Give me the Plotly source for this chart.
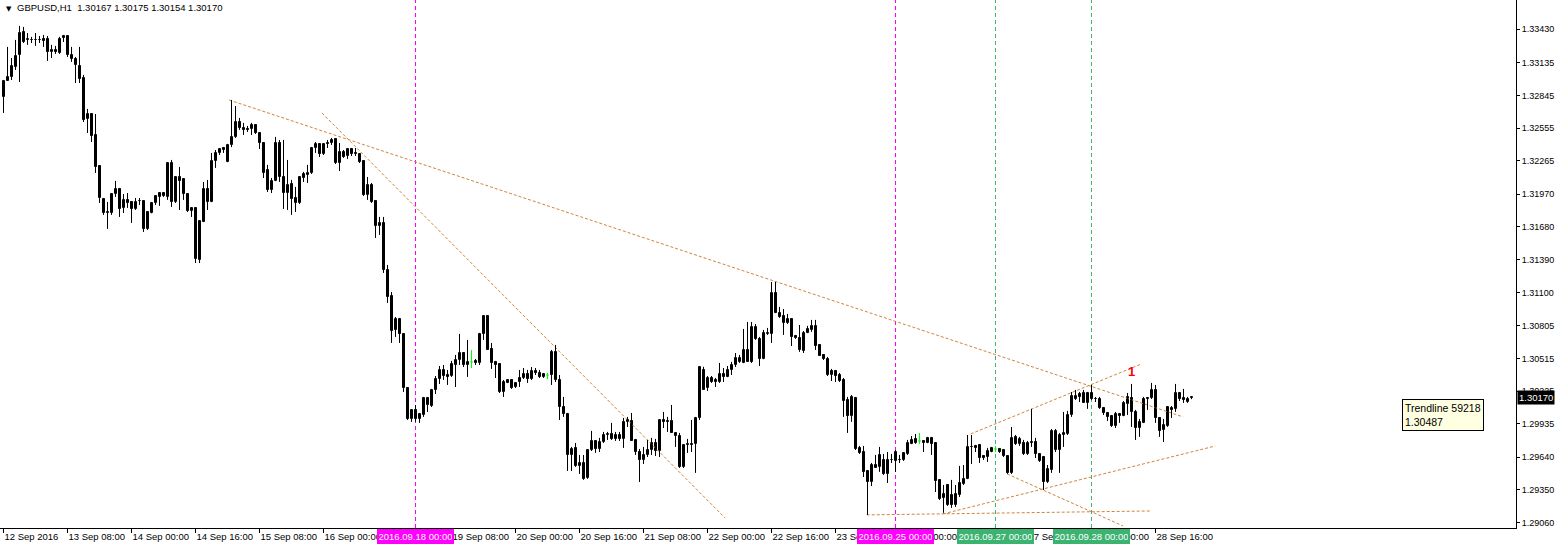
import bisect
import pandas as pd
import plotly.graph_objects as go

# ---------------- data (GBPUSD H1) ----------------
first_bar = "2016-09-12 16:00"
opens = [
1.32831,1.32972,1.33008,1.33097,1.33203,1.33406,1.33336,1.33336,1.33336,1.33338,
1.33345,1.33345,1.33229,1.33247,1.33220,1.33354,1.33371,1.33203,1.33168,1.33106,
1.32999,1.32636,1.32680,1.32494,1.32220,1.31927,1.31803,1.31803,1.31971,1.32016,
1.31848,1.31919,1.31901,1.31839,1.31910,1.31910,1.31662,1.31803,1.31892,1.31945,
1.31980,1.31945,1.32246,1.31901,1.32122,1.32105,1.31971,1.31821,1.31848,1.31387,
1.31724,1.32016,1.31901,1.32264,1.32335,1.32379,1.32255,1.32406,1.32477,1.32609,
1.32556,1.32548,1.32548,1.32583,1.32512,1.32423,1.32184,1.32007,1.32087,1.32423,
1.32122,1.31980,1.32060,1.31936,1.31892,1.32113,1.32140,1.32158,1.32379,1.32415,
1.32326,1.32423,1.32423,1.32459,1.32246,1.32344,1.32308,1.32370,1.32335,1.32326,
1.32264,1.31962,1.32052,1.31910,1.31689,1.31715,1.31299,1.31068,1.30767,1.30865,
1.30732,1.30253,1.29979,1.30059,1.29979,1.30014,1.30165,1.30094,1.30236,1.30333,
1.30413,1.30368,1.30359,1.30457,1.30501,1.30563,1.30457,1.30484,1.30493,1.30475,
1.30732,1.30889,1.30599,1.30484,1.30466,1.30218,1.30298,1.30324,1.30262,1.30306,
1.30342,1.30377,1.30333,1.30404,1.30386,1.30351,1.30368,1.30368,1.30572,1.30324,
1.30085,1.30023,1.29660,1.29722,1.29563,1.29589,1.29457,1.29704,1.29784,1.29713,
1.29775,1.29837,1.29846,1.29802,1.29837,1.29802,1.29953,1.29961,1.29793,1.29686,
1.29616,1.29660,1.29704,1.29766,1.29695,1.29970,1.29961,1.29961,1.29855,1.29828,
1.29554,1.29749,1.29758,1.29758,1.29988,1.30413,1.30253,1.30342,1.30324,1.30306,
1.30377,1.30351,1.30413,1.30457,1.30484,1.30475,1.30590,1.30484,1.30794,1.30688,
1.30510,1.30732,1.30732,1.31094,1.30918,1.30891,1.30829,1.30865,1.30714,1.30696,
1.30581,1.30741,1.30767,1.30803,1.30634,1.30546,1.30510,1.30368,1.30404,1.30368,
1.30324,1.30147,1.30005,1.30165,1.29722,1.29686,1.29518,1.29421,1.29571,1.29554,
1.29616,1.29492,1.29616,1.29607,1.29616,1.29616,1.29669,1.29758,1.29802,1.29784,
1.29784,1.29766,1.29811,1.29766,1.29439,1.29279,1.29394,1.29306,1.29217,1.29306,
1.29403,1.29448,1.29731,1.29740,1.29749,1.29651,1.29642,1.29686,1.29713,1.29713,
1.29704,1.29651,1.29501,1.29820,1.29758,1.29766,1.29669,1.29766,1.29775,1.29669,
1.29642,1.29421,1.29527,1.29873,1.29704,1.29837,1.29846,1.30014,1.30156,1.30200,
1.30209,1.30121,1.30209,1.30156,1.30156,1.30077,1.30032,1.30005,1.29917,1.30023,
1.30005,1.30112,1.30165,1.30041,1.29899,1.29944,1.30165,1.30165,1.30236,1.29988,
1.29881,1.29917,1.30077,1.30068,1.30209,1.30165,1.30129,1.30167]
highs = [
1.32981,1.33274,1.33176,1.33336,1.33460,1.33451,1.33397,1.33363,1.33397,1.33371,
1.33380,1.33371,1.33292,1.33283,1.33363,1.33380,1.33375,1.33274,1.33185,1.33274,
1.33026,1.32725,1.32682,1.32680,1.32222,1.31929,1.31901,1.31980,1.32087,1.32025,
1.31971,1.31980,1.31903,1.31936,1.31936,1.31912,1.31812,1.31901,1.31962,1.31980,
1.31982,1.32255,1.32273,1.32122,1.32211,1.32107,1.31973,1.31850,1.31850,1.31733,
1.32078,1.32096,1.32335,1.32361,1.32379,1.32388,1.32415,1.32804,1.32751,1.32645,
1.32601,1.32574,1.32601,1.32585,1.32514,1.32425,1.32229,1.32113,1.32477,1.32450,
1.32450,1.32273,1.32096,1.32034,1.32122,1.32167,1.32229,1.32388,1.32432,1.32423,
1.32423,1.32450,1.32468,1.32461,1.32423,1.32361,1.32370,1.32379,1.32379,1.32328,
1.32266,1.32122,1.32069,1.31912,1.31768,1.31768,1.31343,1.31103,1.30882,1.30874,
1.30734,1.30255,1.30059,1.30103,1.30032,1.30174,1.30174,1.30245,1.30359,1.30448,
1.30457,1.30413,1.30493,1.30546,1.30732,1.30572,1.30679,1.30590,1.30510,1.30741,
1.30891,1.30891,1.30652,1.30493,1.30468,1.30324,1.30326,1.30326,1.30306,1.30413,
1.30430,1.30413,1.30439,1.30430,1.30413,1.30386,1.30386,1.30590,1.30634,1.30368,
1.30174,1.30032,1.29731,1.29766,1.29660,1.29660,1.29706,1.29873,1.29786,1.29811,
1.29864,1.29864,1.29944,1.29864,1.29864,1.29988,1.29997,1.30032,1.29802,1.29713,
1.29731,1.29793,1.29811,1.29802,1.29970,1.30041,1.29997,1.30103,1.29857,1.29855,
1.29749,1.29802,1.29970,1.29997,1.30448,1.30441,1.30359,1.30359,1.30342,1.30475,
1.30430,1.30448,1.30484,1.30563,1.30546,1.30776,1.30838,1.30838,1.30820,1.30705,
1.30767,1.30785,1.31192,1.31192,1.30971,1.30953,1.30909,1.30867,1.30723,1.30811,
1.30758,1.30803,1.30856,1.30856,1.30636,1.30548,1.30528,1.30422,1.30413,1.30386,
1.30342,1.30174,1.30191,1.30174,1.29740,1.29740,1.29527,1.29589,1.29660,1.29731,
1.29669,1.29686,1.29669,1.29704,1.29660,1.29686,1.29793,1.29828,1.29846,1.29855,
1.29786,1.29820,1.29820,1.29768,1.29441,1.29394,1.29396,1.29439,1.29394,1.29563,
1.29571,1.29837,1.29837,1.29749,1.29751,1.29660,1.29722,1.29731,1.29740,1.29722,
1.29713,1.29653,1.29908,1.29837,1.29820,1.29793,1.29784,1.30068,1.29811,1.29671,
1.29651,1.29571,1.29890,1.29890,1.29855,1.30041,1.30050,1.30218,1.30236,1.30218,
1.30236,1.30218,1.30280,1.30174,1.30174,1.30085,1.30041,1.30014,1.30041,1.30032,
1.30138,1.30209,1.30289,1.30059,1.29979,1.30174,1.30174,1.30298,1.30280,1.29990,
1.29979,1.30094,1.30094,1.30289,1.30218,1.30245,1.30174,1.30175]
lows = [
1.32689,1.32972,1.32981,1.33070,1.32963,1.33309,1.33292,1.33309,1.33283,1.33309,
1.33274,1.33150,1.33176,1.33212,1.33212,1.33318,1.33185,1.33141,1.32954,1.32954,
1.32609,1.32512,1.32432,1.32158,1.31892,1.31786,1.31662,1.31786,1.31945,1.31768,
1.31803,1.31848,1.31715,1.31830,1.31874,1.31635,1.31653,1.31800,1.31874,1.31866,
1.31945,1.31919,1.31857,1.31892,1.31830,1.31919,1.31812,1.31768,1.31360,1.31360,
1.31722,1.31830,1.31899,1.32202,1.32317,1.32335,1.32253,1.32386,1.32468,1.32539,
1.32494,1.32521,1.32494,1.32503,1.32370,1.32113,1.31989,1.31980,1.32085,1.32078,
1.31839,1.31830,1.31786,1.31812,1.31883,1.32078,1.32069,1.32149,1.32335,1.32299,
1.32317,1.32379,1.32406,1.32237,1.32175,1.32291,1.32282,1.32308,1.32308,1.32246,
1.31954,1.31919,1.31892,1.31582,1.31609,1.31272,1.31006,1.30652,1.30705,1.30652,
1.30218,1.29970,1.29953,1.29953,1.29944,1.29997,1.30041,1.30085,1.30200,1.30288,
1.30324,1.30280,1.30351,1.30262,1.30457,1.30439,1.30351,1.30430,1.30457,1.30457,
1.30679,1.30590,1.30422,1.30342,1.30209,1.30174,1.30296,1.30245,1.30253,1.30262,
1.30333,1.30298,1.30324,1.30368,1.30342,1.30342,1.30333,1.30280,1.30306,1.29970,
1.29997,1.29518,1.29518,1.29554,1.29492,1.29439,1.29448,1.29695,1.29678,1.29686,
1.29766,1.29793,1.29793,1.29784,1.29784,1.29722,1.29908,1.29784,1.29660,1.29421,
1.29580,1.29642,1.29660,1.29651,1.29642,1.29899,1.29864,1.29855,1.29731,1.29545,
1.29545,1.29678,1.29686,1.29501,1.29970,1.30236,1.30227,1.30298,1.30262,1.30298,
1.30306,1.30349,1.30368,1.30439,1.30475,1.30473,1.30484,1.30475,1.30679,1.30448,
1.30508,1.30723,1.30652,1.30916,1.30874,1.30723,1.30820,1.30625,1.30688,1.30573,
1.30563,1.30739,1.30750,1.30590,1.30537,1.30501,1.30359,1.30315,1.30306,1.30306,
1.29997,1.29855,1.29953,1.29704,1.29669,1.29465,1.29129,1.29385,1.29545,1.29510,
1.29483,1.29412,1.29589,1.29510,1.29589,1.29607,1.29660,1.29756,1.29758,1.29758,
1.29686,1.29764,1.29660,1.29332,1.29261,1.29147,1.29208,1.29191,1.29199,1.29288,
1.29394,1.29446,1.29580,1.29686,1.29589,1.29616,1.29598,1.29684,1.29686,1.29678,
1.29642,1.29492,1.29492,1.29749,1.29740,1.29660,1.29660,1.29731,1.29633,1.29598,
1.29350,1.29412,1.29501,1.29686,1.29501,1.29731,1.29837,1.29997,1.30147,1.30129,
1.30121,1.30068,1.30147,1.30129,1.30068,1.30014,1.29961,1.29908,1.29899,1.29944,
1.30003,1.30014,1.29908,1.29793,1.29820,1.29942,1.30059,1.30156,1.29944,1.29820,
1.29775,1.29908,1.29988,1.30041,1.30138,1.30121,1.30121,1.30154]
closes = [
1.32972,1.33008,1.33106,1.33194,1.33397,1.33318,1.33345,1.33338,1.33332,1.33336,
1.33327,1.33229,1.33247,1.33229,1.33345,1.33371,1.33203,1.33168,1.33115,1.32990,
1.32627,1.32680,1.32485,1.32211,1.31936,1.31803,1.31812,1.31971,1.32016,1.31839,
1.31919,1.31892,1.31839,1.31901,1.31908,1.31662,1.31812,1.31892,1.31954,1.31978,
1.31954,1.32246,1.31901,1.32120,1.32087,1.31971,1.31821,1.31848,1.31396,1.31731,
1.32016,1.31901,1.32264,1.32335,1.32370,1.32361,1.32406,1.32477,1.32609,1.32556,
1.32539,1.32539,1.32583,1.32512,1.32423,1.32158,1.32007,1.32087,1.32423,1.32122,
1.31980,1.32052,1.31927,1.31892,1.32120,1.32149,1.32158,1.32379,1.32415,1.32326,
1.32415,1.32415,1.32450,1.32246,1.32344,1.32299,1.32370,1.32326,1.32326,1.32255,
1.31962,1.32052,1.31901,1.31689,1.31715,1.31299,1.31059,1.30758,1.30865,1.30732,
1.30253,1.29979,1.30059,1.29979,1.30023,1.30165,1.30103,1.30236,1.30333,1.30413,
1.30359,1.30351,1.30466,1.30501,1.30563,1.30457,1.30484,1.30484,1.30475,1.30732,
1.30889,1.30592,1.30475,1.30457,1.30218,1.30306,1.30324,1.30253,1.30298,1.30342,
1.30377,1.30333,1.30404,1.30386,1.30351,1.30377,1.30368,1.30572,1.30324,1.30085,
1.30023,1.29660,1.29713,1.29563,1.29589,1.29448,1.29704,1.29784,1.29713,1.29775,
1.29837,1.29846,1.29802,1.29837,1.29802,1.29953,1.29970,1.29786,1.29686,1.29616,
1.29660,1.29704,1.29766,1.29695,1.29968,1.29953,1.29953,1.29857,1.29828,1.29554,
1.29747,1.29758,1.29749,1.29988,1.30439,1.30238,1.30342,1.30306,1.30306,1.30377,
1.30351,1.30413,1.30457,1.30519,1.30519,1.30590,1.30486,1.30794,1.30688,1.30510,
1.30741,1.30741,1.31094,1.30916,1.30882,1.30829,1.30865,1.30705,1.30696,1.30590,
1.30741,1.30776,1.30803,1.30625,1.30539,1.30510,1.30368,1.30404,1.30359,1.30315,
1.30138,1.30005,1.30174,1.29713,1.29678,1.29510,1.29421,1.29571,1.29547,1.29660,
1.29492,1.29616,1.29611,1.29686,1.29611,1.29678,1.29766,1.29793,1.29766,1.29784,
1.29766,1.29811,1.29758,1.29430,1.29270,1.29315,1.29217,1.29217,1.29315,1.29412,
1.29448,1.29731,1.29727,1.29722,1.29633,1.29633,1.29695,1.29722,1.29713,1.29686,
1.29651,1.29501,1.29811,1.29758,1.29802,1.29669,1.29766,1.29775,1.29669,1.29607,
1.29421,1.29536,1.29873,1.29704,1.29837,1.29855,1.30014,1.30183,1.30183,1.30174,
1.30123,1.30209,1.30156,1.30152,1.30077,1.30032,1.29997,1.29917,1.30023,1.30005,
1.30121,1.30174,1.30041,1.29899,1.29953,1.30156,1.30156,1.30236,1.29988,1.29873,
1.29926,1.30085,1.30059,1.30209,1.30156,1.30147,1.30156,1.30170]

# x-axis labels (time of the labelled bar, text shown)
tick_times = ["2016-09-12 16:00","2016-09-13 08:00","2016-09-14 00:00","2016-09-14 16:00",
              "2016-09-15 08:00","2016-09-16 00:00","2016-09-16 16:00","2016-09-19 08:00",
              "2016-09-20 00:00","2016-09-20 16:00","2016-09-21 08:00","2016-09-22 00:00",
              "2016-09-22 16:00","2016-09-23 08:00","2016-09-26 00:00","2016-09-26 16:00",
              "2016-09-27 08:00","2016-09-28 00:00","2016-09-28 16:00"]
tick_text = ["12 Sep 2016","13 Sep 08:00","14 Sep 00:00","14 Sep 16:00","15 Sep 08:00",
             "16 Sep 00:00","16 Sep 16:00","19 Sep 08:00","20 Sep 00:00","20 Sep 16:00",
             "21 Sep 08:00","22 Sep 00:00","22 Sep 16:00","23 Sep 08:00","26 Sep 00:00",
             "26 Sep 16:00","27 Sep 08:00","28 Sep 00:00","28 Sep 16:00"]
price_ticks = [1.33430,1.33135,1.32845,1.32555,1.32265,1.31970,1.31680,1.31390,
               1.31100,1.30805,1.30515,1.30225,1.29935,1.29640,1.29350,1.29060]

# vertical period separators
vlines_time = ["2016-09-18 00:00","2016-09-25 00:00","2016-09-27 00:00","2016-09-28 00:00"]
vlines_label = ["2016.09.18 00:00","2016.09.25 00:00","2016.09.27 00:00","2016.09.28 00:00"]
vlines_color = ["#FF00FF","#FF00FF","#3CB371","#3CB371"]

# trendlines: (bar position, price) pairs
trend_x = [[56.4, 294.9],[79.6, 180.4],[241.8, 284.5],[250.9, 279.9],[234.9, 302.9],[215.8, 287.0]]
trend_y = [[1.32804,1.29997],[1.32689,1.29102],[1.29846,1.30466],[1.29492,1.29031],
           [1.29138,1.29739],[1.29129,1.29164]]

header = "GBPUSD,H1\u00a0\u00a01.30167 1.30175 1.30154 1.30170"
last_price = 1.30170
tooltip_text = "Trendline 59218<br>1.30487"
tooltip_pos = (349.6, 1.30156)
mark_pos = (281.9, 1.30395)

# ---------------- build ----------------
n = len(opens)
times = [t for t in pd.date_range(first_bar, periods=n * 2, freq="h") if t.weekday() < 5][:n]
tickvals = [times.index(pd.Timestamp(t)) for t in tick_times]
vline_idx = [bisect.bisect_right(times, pd.Timestamp(t)) - 1 for t in vlines_time]

wx, wy, gx, gy = [], [], [], []
bx_up, by_up, bb_up, bx_dn, by_dn, bb_dn = [], [], [], [], [], []
for i in range(n):
    o, h, l, c = opens[i], highs[i], lows[i], closes[i]
    hi, lo = max(h, o, c), min(l, o, c)
    if o == c:
        gx += [i, i, None, i - 0.375, i + 0.375, None]
        gy += [lo, hi, None, o, o, None]
        continue
    wx += [i, i, None]
    wy += [lo, hi, None]
    if c > o:
        bx_up.append(i); by_up.append(c - o); bb_up.append(o)
    else:
        bx_dn.append(i); by_dn.append(o - c); bb_dn.append(c)

fig = go.Figure()
for k in range(len(trend_x)):
    fig.add_trace(go.Scatter(x=trend_x[k], y=trend_y[k], mode="lines",
                             line=dict(color="#CD853F", width=1, dash="3px,2px"),
                             hoverinfo="skip", showlegend=False))
fig.add_trace(go.Scatter(x=wx, y=wy, mode="lines", line=dict(color="black", width=1),
                         hoverinfo="skip", showlegend=False))
fig.add_trace(go.Bar(x=bx_up, y=by_up, base=bb_up, width=0.5,
                     marker=dict(color="white", line=dict(color="black", width=1)),
                     showlegend=False, hoverinfo="skip"))
fig.add_trace(go.Bar(x=bx_dn, y=by_dn, base=bb_dn, width=0.5,
                     marker=dict(color="black", line=dict(color="black", width=1)),
                     showlegend=False, hoverinfo="skip"))
fig.add_trace(go.Scatter(x=gx, y=gy, mode="lines", line=dict(color="#00FF00", width=1),
                         hoverinfo="skip", showlegend=False))

FONT = "Liberation Sans"
shapes, annotations = [], []
for xi, lab, col in zip(vline_idx, vlines_label, vlines_color):
    shapes.append(dict(type="line", xref="x", yref="paper", x0=xi, x1=xi, y0=0, y1=1,
                       line=dict(color=col, width=1, dash="4px,3px"), layer="below"))
    annotations.append(dict(x=xi, xref="x", y=-0.0165, yref="paper", yanchor="middle",
                            xanchor="center", text=lab, showarrow=False,
                            bgcolor=col, bordercolor=col, borderpad=1, width=73,
                            font=dict(family=FONT, size=9.5, color="white")))

annotations.append(dict(x=0, xref="paper", xshift=4, y=1, yref="paper", yanchor="top", yshift=-3,
                        xanchor="left", text="\u25bc", showarrow=False,
                        font=dict(family="DejaVu Sans", size=7, color="black")))
annotations.append(dict(x=0, xref="paper", xshift=15, y=1, yref="paper", yanchor="top", yshift=0,
                        xanchor="left", text=header, showarrow=False,
                        font=dict(family=FONT, size=9.5, color="black")))
annotations.append(dict(x=1, xref="paper", xshift=1, y=last_price, yref="y", xanchor="left",
                        yanchor="middle", text=f"{last_price:.5f}", showarrow=False,
                        bgcolor="black", borderpad=1,
                        font=dict(family=FONT, size=9.5, color="white")))
annotations.append(dict(x=tooltip_pos[0], xref="x", y=tooltip_pos[1], yref="y", xanchor="left",
                        yanchor="top", text=tooltip_text, align="left", showarrow=False,
                        bgcolor="#FFFFE1", bordercolor="black", borderwidth=1, borderpad=2,
                        font=dict(family=FONT, size=10.5, color="black")))
annotations.append(dict(x=mark_pos[0], xref="x", y=mark_pos[1], yref="y", text="<b>1</b>",
                        showarrow=False, font=dict(family=FONT, size=13, color="#FF0000")))

W, H = 1559, 549
plot_w = 1516
fig.update_layout(
    width=W, height=H, margin=dict(l=0, r=W - plot_w, t=0, b=21),
    paper_bgcolor="white", plot_bgcolor="white", barmode="overlay", bargap=0,
    showlegend=False, shapes=shapes, annotations=annotations,
    xaxis=dict(range=[-0.875, -0.875 + plot_w / 4], tickvals=tickvals, ticktext=tick_text,
               ticks="outside", ticklen=4, tickcolor="black", showline=True, linecolor="black",
               linewidth=1, showgrid=False, zeroline=False, ticklabelposition="outside right",
               tickangle=0,
               tickfont=dict(family=FONT, size=9.5, color="black"), automargin=False,
               fixedrange=True),
    yaxis=dict(side="right", range=[1.29013, 1.336895], tickvals=price_ticks,
               ticktext=[f"{p:.5f}" for p in price_ticks], ticks="outside", ticklen=3,
               tickcolor="black", showline=True, linecolor="black", linewidth=1,
               showgrid=False, zeroline=False, automargin=False,
               tickfont=dict(family=FONT, size=9, color="black"), fixedrange=True),
)
fig.write_html("out.html", config={"displayModeBar": False},
               post_script="document.body.style.margin='0';document.body.style.overflow='hidden';")
